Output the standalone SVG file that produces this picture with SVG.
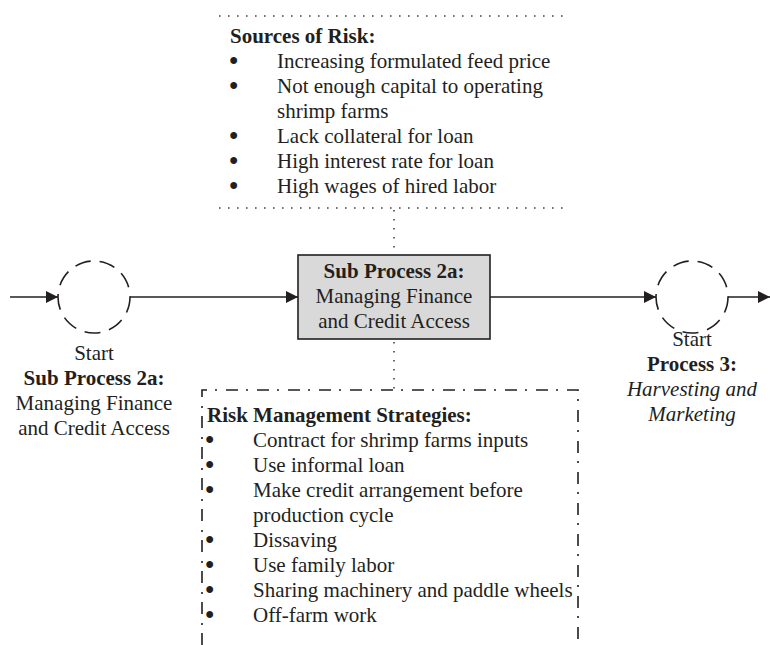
<svg xmlns="http://www.w3.org/2000/svg" width="770" height="645" viewBox="0 0 770 645">
  <style>
    text { font-family: "Liberation Serif", "Times New Roman", serif; font-size: 21px; fill: #231f20; }
    .b { font-weight: bold; }
    .i { font-style: italic; }
    .mid { text-anchor: middle; }
    .bul { stroke: #231f20; stroke-width: 1.8; }
    .flow { stroke: #231f20; stroke-width: 1.3; fill: none; }
    .event { stroke: #231f20; stroke-width: 1.6; fill: none; stroke-dasharray: 16 9; }
    .dots { stroke: #444; stroke-width: 1.6; fill: none; stroke-dasharray: 1.6 7.4; }
    .dashdot { stroke: #231f20; stroke-width: 1.6; fill: none; stroke-dasharray: 12 8 2 9; }
  </style>
  <defs>
    <marker id="arrow" markerUnits="userSpaceOnUse" markerWidth="13" markerHeight="13" refX="12" refY="6" orient="auto">
      <path d="M0,0 L12,6 L0,12 Z" fill="#231f20"/>
    </marker>
  </defs>

  <!-- connectors -->
  <g id="connectors">
    <line class="flow" x1="10" y1="297" x2="58" y2="297" marker-end="url(#arrow)"/>
    <line class="flow" x1="130" y1="297" x2="298" y2="297" marker-end="url(#arrow)"/>
    <line class="flow" x1="490" y1="297" x2="656" y2="297" marker-end="url(#arrow)"/>
    <line class="flow" x1="728" y1="297" x2="770" y2="297" marker-end="url(#arrow)"/>
    <line class="dots" x1="394" y1="210" x2="394" y2="255"/>
    <line class="dots" x1="394" y1="342" x2="394" y2="390"/>
  </g>

  <!-- sources of risk annotation -->
  <g id="sources-of-risk">
    <line class="dots" x1="219" y1="16" x2="568" y2="16"/>
    <line class="dots" x1="219" y1="208" x2="568" y2="208"/>
    <text class="b" x="230" y="43">Sources of Risk:</text>
    <text class="bul" x="230" y="68">•</text><text x="277" y="68">Increasing formulated feed price</text>
    <text class="bul" x="230" y="93">•</text><text x="277" y="93">Not enough capital to operating</text>
    <text x="277" y="118">shrimp farms</text>
    <text class="bul" x="230" y="143">•</text><text x="277" y="143">Lack collateral for loan</text>
    <text class="bul" x="230" y="168">•</text><text x="277" y="168">High interest rate for loan</text>
    <text class="bul" x="230" y="193">•</text><text x="277" y="193">High wages of hired labor</text>
  </g>

  <!-- start event of sub process 2a -->
  <g id="start-2a">
    <circle class="event" cx="94" cy="297" r="36"/>
    <text class="mid" x="94" y="360">Start</text>
    <text class="mid b" x="94" y="385">Sub Process 2a:</text>
    <text class="mid" x="94" y="410">Managing Finance</text>
    <text class="mid" x="94" y="435">and Credit Access</text>
  </g>

  <!-- sub process 2a task -->
  <g id="sub-process-2a">
    <rect x="298" y="255" width="192" height="84" fill="#d9d9d9" stroke="#231f20" stroke-width="1.6"/>
    <text class="mid b" x="394" y="278">Sub Process 2a:</text>
    <text class="mid" x="394" y="303">Managing Finance</text>
    <text class="mid" x="394" y="328">and Credit Access</text>
  </g>

  <!-- start event of process 3 -->
  <g id="start-3">
    <circle class="event" cx="692" cy="297" r="36"/>
    <text class="mid" x="692" y="346">Start</text>
    <text class="mid b" x="692" y="371">Process 3:</text>
    <text class="mid i" x="692" y="396">Harvesting and</text>
    <text class="mid i" x="692" y="421">Marketing</text>
  </g>

  <!-- risk management strategies annotation -->
  <g id="risk-management">
    <path class="dashdot" d="M202,645 L202,390 L578,390 L578,645"/>
    <text class="b" x="207" y="422">Risk Management Strategies:</text>
    <text class="bul" x="206" y="447">•</text><text x="253" y="447">Contract for shrimp farms inputs</text>
    <text class="bul" x="206" y="472">•</text><text x="253" y="472">Use informal loan</text>
    <text class="bul" x="206" y="497">•</text><text x="253" y="497">Make credit arrangement before</text>
    <text x="253" y="522">production cycle</text>
    <text class="bul" x="206" y="547">•</text><text x="253" y="547">Dissaving</text>
    <text class="bul" x="206" y="572">•</text><text x="253" y="572">Use family labor</text>
    <text class="bul" x="206" y="597">•</text><text x="253" y="597">Sharing machinery and paddle wheels</text>
    <text class="bul" x="206" y="622">•</text><text x="253" y="622">Off-farm work</text>
  </g>
</svg>
